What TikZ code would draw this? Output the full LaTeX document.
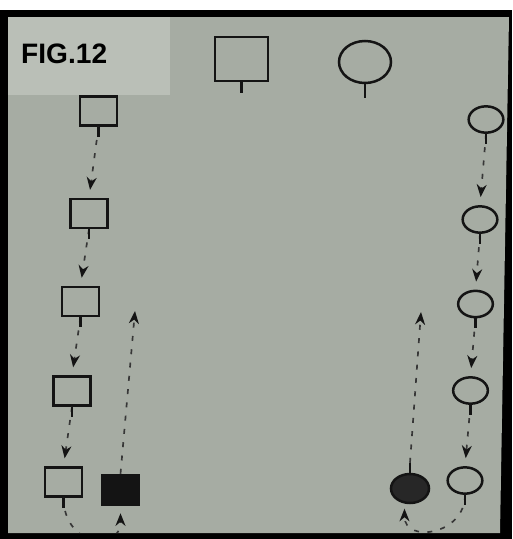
\documentclass[tikz,border=0pt]{standalone}
\usepackage{fontspec}
\setmainfont{Liberation Sans}
\usepackage{tikz}
\usetikzlibrary{shapes.geometric, arrows.meta, positioning}

\definecolor{paper}{RGB}{166,172,163}
\definecolor{paperlight}{RGB}{186,191,183}
\definecolor{ink}{RGB}{20,20,20}
\definecolor{pencil}{RGB}{55,55,55}

\begin{document}
\begin{tikzpicture}[x=0.3mm, y=-0.3mm,
  sq/.style={draw=ink, line width=0.75mm, rectangle, minimum width=11.1mm, minimum height=8.7mm, inner sep=0pt},
  ci/.style={draw=ink, line width=0.75mm, ellipse, minimum width=10.4mm, minimum height=7.9mm, inner sep=0pt},
  stem/.style={draw=ink, line width=0.65mm},
  dasharrow/.style={draw=pencil, line width=0.5mm, dash pattern=on 1.5mm off 2.5mm, -{Stealth[length=3.8mm, width=3mm, color=ink]}, shorten >=2.4mm}]
  \useasboundingbox (0,0) rectangle (512,539);
  \fill [white] (0,0) rectangle (512,539);
  \fill [black] (0,10) rectangle (512,539);
  \fill [paper] (8,17) -- (509,17) -- (500,533) -- (8,533) -- cycle;
  \fill [paperlight] (8,17) rectangle (170,95);

  \begin{scope}
  \clip (8,17) -- (509,17) -- (500,533) -- (8,533) -- cycle;
  \node (fig) [anchor=base west, inner sep=0pt, font=\fontsize{24}{28}\selectfont\bfseries] at (21,63) {FIG.12};

  \node (male) [sq, minimum width=15.9mm, minimum height=13.2mm] at (241.5,59) {};
  \node (female) [ci, minimum width=15.6mm, minimum height=12.6mm] at (365,62) {};
  \draw [stem] (male.south) -- ++(0,11);
  \draw [stem] (female.south) -- ++(0,14);

  \node (s1) [sq] at (98.5,111) {};
  \node (s2) [sq] at (89,213.5) {};
  \node (s3) [sq] at (80.5,301.5) {};
  \node (s4) [sq] at (72,391) {};
  \node (s5) [sq] at (63.5,482) {};
  \node (fs) [sq, fill=ink, minimum height=9mm] at (120.5,490) {};
  \coordinate (fstop) at (135,311);

  \node (c1) [ci] at (486,119.5) {};
  \node (c2) [ci] at (480,219.5) {};
  \node (c3) [ci] at (475.5,304) {};
  \node (c4) [ci] at (470.5,390.5) {};
  \node (c5) [ci] at (465,480.5) {};
  \node (fc) [ci, fill=ink!92, minimum width=11.4mm, minimum height=8.7mm] at (410,488.5) {};
  \coordinate (fctop) at (421,312);

  \draw [dasharrow] (s1.south) -- (s2.north);
  \draw [dasharrow] (s2.south) -- (s3.north);
  \draw [dasharrow] (s3.south) -- (s4.north);
  \draw [dasharrow] (s4.south) -- (s5.north);
  \draw [dasharrow, shorten >=2.1mm] (s5.south) .. controls +(0,48) and +(0,48) .. (fs.south);
  \draw [dasharrow, shorten >=0pt] (fs.north) -- (fstop);

  \draw [dasharrow] (c1.south) -- (c2.north);
  \draw [dasharrow] (c2.south) -- (c3.north);
  \draw [dasharrow] (c3.south) -- (c4.north);
  \draw [dasharrow] (c4.south) -- (c5.north);
  \draw [dasharrow, shorten >=1.5mm] (c5.south) .. controls +(0,40) and +(0,40) .. (fc.250);
  \draw [stem] (fc.north) -- ++(0,-10) coordinate (fcstem);
  \draw [dasharrow, shorten >=0pt] (fcstem) -- (fctop);

  \draw [stem] (s1.south) -- ++(0,10);
  \draw [stem] (s2.south) -- ++(0,10);
  \draw [stem] (s3.south) -- ++(0,10);
  \draw [stem] (s4.south) -- ++(0,10);
  \draw [stem] (s5.south) -- ++(0,10);
  \draw [stem] (c1.south) -- ++(0,10);
  \draw [stem] (c2.south) -- ++(0,10);
  \draw [stem] (c3.south) -- ++(0,10);
  \draw [stem] (c4.south) -- ++(0,10);
  \draw [stem] (c5.south) -- ++(0,10);
  \end{scope}
\end{tikzpicture}
\end{document}
